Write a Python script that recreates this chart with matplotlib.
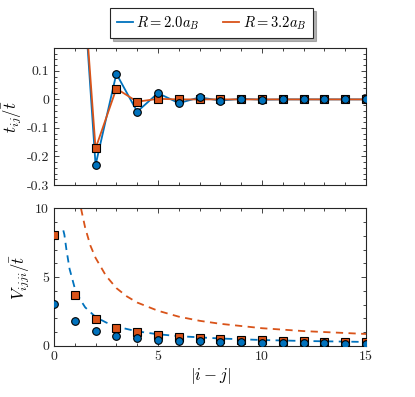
import matplotlib
matplotlib.use('Agg')
import matplotlib.pyplot as plt
from matplotlib.ticker import MultipleLocator
from matplotlib.lines import Line2D

plt.rcParams['font.family'] = 'cmr10'
plt.rcParams['mathtext.fontset'] = 'cm'
plt.rcParams['axes.unicode_minus'] = False

blue = '#0072BD'
orange = '#D95319'

# hopping t_ij / t-bar
sites = [1, 2, 3, 4, 5, 6, 7, 8, 9, 10, 11, 12, 13, 14, 15]
t_blue = [0.85, -0.23, 0.09, -0.043, 0.022, -0.013, 0.007, -0.004, 0.002, -0.001, 0.0, 0.0, 0.0, 0.0, 0.0]
t_orange = [0.83, -0.172, 0.038, -0.008, 0.002, 0.0, 0.0, 0.0, 0.0, 0.0, 0.0, 0.0, 0.0, 0.0, 0.0]

# interaction V_ijji / t-bar
dist = [0, 1, 2, 3, 4, 5, 6, 7, 8, 9, 10, 11, 12, 13, 14, 15]
v_blue = [3.06, 1.8, 1.05, 0.71, 0.54, 0.45, 0.38, 0.32, 0.28, 0.25, 0.22, 0.2, 0.18, 0.17, 0.16, 0.15]
v_orange = [8.03, 3.69, 1.97, 1.29, 0.97, 0.78, 0.66, 0.57, 0.5, 0.44, 0.4, 0.36, 0.33, 0.31, 0.29, 0.27]

# dashed reference curves
cb_x = [0.45, 0.5, 0.6, 0.75, 1, 1.25, 1.5, 2, 2.5, 3, 4, 5, 6, 8, 10, 12, 15]
cb_y = [8.4, 8.1, 7.0, 5.6, 4.2, 3.4, 2.8, 2.1, 1.7, 1.4, 1.05, 0.84, 0.7, 0.53, 0.42, 0.35, 0.28]
co_x = [1.3, 1.5, 1.75, 2, 2.5, 3, 3.5, 4, 5, 6, 7, 8, 10, 12, 15]
co_y = [10.0, 8.6, 7.3, 6.4, 5.1, 4.2, 3.6, 3.15, 2.55, 2.12, 1.82, 1.6, 1.28, 1.07, 0.86]

fig = plt.figure(figsize=(4.15, 3.97), dpi=100)
ax1 = fig.add_axes([0.130, 0.534, 0.752, 0.345])
ax2 = fig.add_axes([0.130, 0.129, 0.752, 0.346])

mk = dict(markeredgecolor='black', markeredgewidth=0.8, markersize=5.5, linestyle='none')
ax1.plot(sites, t_blue, '-', color=blue, lw=1.3, zorder=2)
ax1.plot(sites, t_orange, '-', color=orange, lw=1.3, zorder=2.1)
ax1.plot(sites, t_orange, marker='s', color=orange, zorder=3, **mk)
ax1.plot(sites, t_blue, marker='o', color=blue, zorder=4, **mk)
ax1.set_ylim(-0.3, 0.18)
ax1.set_yticks([-0.3, -0.2, -0.1, 0, 0.1])
ax1.set_yticklabels(['-0.3', '-0.2', '-0.1', '0', '0.1'])
ax1.yaxis.set_minor_locator(MultipleLocator(0.02))
ax1.set_ylabel(r'$t_{ij}/\bar{t}$', fontsize=12, labelpad=2)

ax2.plot(cb_x, cb_y, color=blue, lw=1.3, dashes=(4, 3))
ax2.plot(co_x, co_y, color=orange, lw=1.3, dashes=(4, 3))
ax2.plot(dist, v_orange, marker='s', color=orange, zorder=3, **mk)
ax2.plot(dist, v_blue, marker='o', color=blue, zorder=4, **mk)
ax2.set_ylim(0, 10)
ax2.set_yticks([0, 5, 10])
ax2.set_yticklabels(['0', '5', '10'])
ax2.yaxis.set_minor_locator(MultipleLocator(1))
ax2.set_xlabel(r'$|i-j|$', fontsize=12, labelpad=2)
ax2.set_ylabel(r'$V_{ijji}/\bar{t}$', fontsize=12, labelpad=2)

for ax in (ax1, ax2):
    ax.set_xlim(0, 15)
    ax.set_xticks([0, 5, 10, 15])
    ax.xaxis.set_minor_locator(MultipleLocator(1))
    ax.tick_params(which='both', direction='in', top=True, right=True, labelsize=10,
                   width=0.6, colors='#262626')
    ax.tick_params(which='major', length=3.5)
    ax.tick_params(which='minor', length=2)
    for s in ax.spines.values():
        s.set_linewidth(0.8)
        s.set_color('#262626')
ax2.set_xticklabels(['0', '5', '10', '15'])
ax1.set_xticklabels([])

handles = [Line2D([], [], color=blue, lw=1.3), Line2D([], [], color=orange, lw=1.3)]
leg = fig.legend(handles, [r'$R = 2.0a_B$', r'$R = 3.2a_B$'], loc='center',
                 bbox_to_anchor=(0.51, 0.942), ncol=2, fontsize=10.5, fancybox=False,
                 shadow={'color': '0.5', 'alpha': 0.6}, edgecolor='#262626',
                 handlelength=1.1, handletextpad=0.25, columnspacing=1.6,
                 borderpad=0.45, borderaxespad=0)
leg.get_frame().set_linewidth(0.8)

fig.savefig('out.png', dpi=100)
